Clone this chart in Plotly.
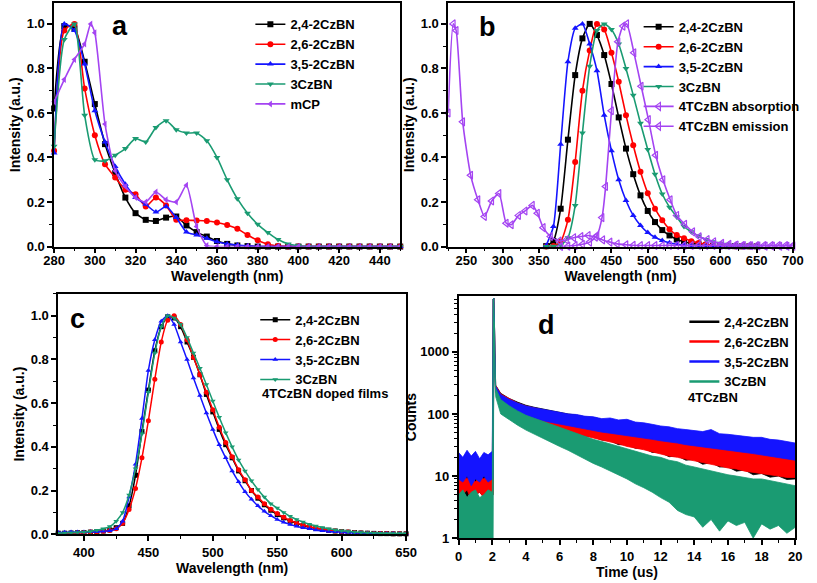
import plotly.graph_objects as go

FONT = "Arial, Liberation Sans, sans-serif"
BLACK, RED, BLUE, GREEN, PURPLE = "#000000", "#ff0000", "#1414ff", "#1a9b72", "#a444f2"

# ---------------- panel a : absorption ----------------
wl_a = list(range(280, 455, 5))
a_24 = [0.62, 0.99, 0.98, 0.83, 0.64, 0.46, 0.33, 0.22, 0.15, 0.12, 0.115, 0.13, 0.135, 0.095, 0.065,
        0.045, 0.025, 0.012, 0.005, 0.002] + [0.0] * 15
a_26 = [0.43, 0.97, 1.0, 0.71, 0.50, 0.37, 0.31, 0.255, 0.235, 0.18, 0.22, 0.185, 0.12, 0.118, 0.117,
        0.115, 0.108, 0.097, 0.08, 0.052, 0.028, 0.01, 0.003] + [0.0] * 12
a_35 = [0.42, 1.0, 0.97, 0.82, 0.61, 0.47, 0.36, 0.28, 0.22, 0.19, 0.155, 0.18, 0.13, 0.065, 0.052,
        0.037, 0.022, 0.012, 0.007, 0.003] + [0.0] * 15
a_3cz = [0.45, 0.93, 1.0, 0.59, 0.39, 0.385, 0.41, 0.44, 0.485, 0.47, 0.535, 0.565, 0.525, 0.51, 0.51,
         0.475, 0.40, 0.30, 0.215, 0.15, 0.10, 0.063, 0.032, 0.012, 0.004] + [0.0] * 10
wl_a_mcp = [280, 285, 290, 295, 298] + list(range(300, 455, 5))
a_mcp = [0.65, 0.75, 0.84, 0.91, 1.0, 0.96, 0.55, 0.34, 0.27, 0.22, 0.20, 0.245, 0.21, 0.20, 0.275,
         0.09, 0.005] + [0.0] * 19

# ---------------- panel b : emission / absorption ----------------
wl_b = list(range(360, 660, 10))
b_24 = [0.002, 0.025, 0.17, 0.48, 0.77, 0.935, 1.0, 0.95, 0.86, 0.73, 0.58, 0.44, 0.325, 0.23, 0.16,
        0.11, 0.074, 0.05, 0.032, 0.022, 0.015, 0.01, 0.006, 0.004, 0.003, 0.002, 0.002, 0.001, 0.001, 0.001]
b_26 = [0.0, 0.003, 0.022, 0.12, 0.38, 0.70, 0.88, 1.0, 0.975, 0.87, 0.74, 0.59, 0.455, 0.336, 0.24,
        0.17, 0.118, 0.078, 0.052, 0.037, 0.024, 0.016, 0.01, 0.006, 0.004, 0.003, 0.002, 0.001, 0.001, 0.001]
b_35 = [0.005, 0.09, 0.46, 0.83, 0.98, 1.0, 0.91, 0.79, 0.59, 0.43, 0.30, 0.207, 0.14, 0.095, 0.063,
        0.042, 0.027, 0.017, 0.011, 0.007, 0.004, 0.003, 0.002, 0.002, 0.001, 0.001, 0.001, 0.001, 0.001, 0.001]
b_3cz = [0.0, 0.002, 0.006, 0.04, 0.185, 0.51, 0.81, 0.97, 1.0, 0.975, 0.91, 0.80, 0.68, 0.554, 0.436,
         0.325, 0.236, 0.177, 0.133, 0.09, 0.066, 0.047, 0.032, 0.022, 0.015, 0.01, 0.006, 0.004, 0.003, 0.002]
wl_b_abs = [225, 232, 236, 245, 256, 266, 275, 285, 295, 305, 312, 322, 331, 341, 348, 356, 366, 378,
            388, 398, 408, 418, 428, 438, 448, 458, 470, 480, 490, 500, 510, 520, 530, 540, 550, 560,
            570, 580, 590, 600, 610, 620, 630, 640, 650, 660, 670, 680, 690, 700]
b_abs = [0.60, 1.0, 0.97, 0.56, 0.32, 0.21, 0.135, 0.205, 0.238, 0.105, 0.098, 0.14, 0.16, 0.185, 0.15,
         0.085, 0.045, 0.025, 0.03, 0.04, 0.045, 0.05, 0.042, 0.03, 0.02, 0.012, 0.008, 0.006, 0.005,
         0.005, 0.005, 0.005, 0.005, 0.005, 0.005, 0.005, 0.005, 0.005, 0.005, 0.005, 0.005, 0.005,
         0.005, 0.005, 0.005, 0.005, 0.005, 0.005, 0.005, 0.005]
wl_b_em = [380, 390, 400, 410, 420, 430, 437, 442, 450, 459, 466, 471, 481, 491, 501, 511, 521, 531,
           540, 551, 562, 571, 582, 591, 602, 612, 622, 632, 642, 652, 662, 672, 682, 692, 700]
b_em = [0.0, 0.002, 0.005, 0.01, 0.02, 0.05, 0.13, 0.27, 0.61, 0.92, 0.99, 1.0, 0.87, 0.72, 0.57, 0.41,
        0.30, 0.21, 0.14, 0.10, 0.066, 0.044, 0.032, 0.022, 0.015, 0.01, 0.007, 0.005, 0.004, 0.003,
        0.002, 0.002, 0.001, 0.001, 0.001]

# ---------------- panel c : doped films PL ----------------
wl_c = list(range(380, 655, 5))
c_24 = [0.005, 0.005, 0.006, 0.007, 0.008, 0.01, 0.012, 0.015, 0.02, 0.03, 0.05,
        0.13, 0.27, 0.47, 0.66, 0.84, 0.95, 0.995, 0.99, 0.95, 0.88,
        0.81, 0.73, 0.64, 0.56, 0.48, 0.41, 0.35, 0.29, 0.245, 0.2,
        0.165, 0.135, 0.11, 0.09, 0.075, 0.06, 0.05, 0.04, 0.033, 0.027,
        0.022, 0.018, 0.015, 0.012, 0.01, 0.008, 0.006, 0.005, 0.004, 0.003,
        0.003, 0.002, 0.002, 0.002]
c_26 = [0.003, 0.004, 0.005, 0.006, 0.008, 0.01, 0.012, 0.014, 0.017, 0.025, 0.05,
        0.113, 0.21, 0.35, 0.52, 0.71, 0.88, 0.98, 1.0, 0.96, 0.89,
        0.81, 0.73, 0.65, 0.57, 0.49, 0.42, 0.355, 0.295, 0.25, 0.2,
        0.17, 0.14, 0.115, 0.095, 0.078, 0.063, 0.052, 0.042, 0.035, 0.028,
        0.023, 0.018, 0.015, 0.012, 0.01, 0.008, 0.006, 0.005, 0.004, 0.003,
        0.003, 0.002, 0.002, 0.002]
c_35 = [0.008, 0.009, 0.01, 0.01, 0.01, 0.011, 0.012, 0.014, 0.016, 0.025, 0.06,
        0.17, 0.32, 0.53, 0.75, 0.89, 0.975, 1.0, 0.96, 0.88, 0.80,
        0.715, 0.635, 0.555, 0.48, 0.41, 0.35, 0.29, 0.24, 0.195, 0.16,
        0.13, 0.105, 0.085, 0.068, 0.055, 0.045, 0.037, 0.03, 0.025, 0.02,
        0.016, 0.013, 0.011, 0.009, 0.008, 0.007, 0.006, 0.005, 0.004, 0.004,
        0.003, 0.003, 0.002, 0.002]
c_3cz = [0.005, 0.006, 0.007, 0.008, 0.01, 0.013, 0.018, 0.025, 0.035, 0.06, 0.10,
         0.18, 0.30, 0.46, 0.65, 0.83, 0.95, 1.0, 0.99, 0.96, 0.90,
         0.83, 0.76, 0.685, 0.61, 0.535, 0.465, 0.40, 0.34, 0.29, 0.245,
         0.205, 0.17, 0.14, 0.12, 0.10, 0.082, 0.068, 0.056, 0.046, 0.038,
         0.031, 0.025, 0.02, 0.016, 0.013, 0.01, 0.008, 0.007, 0.006, 0.005,
         0.004, 0.003, 0.003, 0.003]

# ---------------- panel d : transient decay (noise envelopes) ----------------
t_d = [0, 0.25, 0.5, 0.75, 1.0, 1.25, 1.5, 1.75, 2.0, 2.05, 2.1, 2.15, 2.2,
       2.5, 3.0, 3.5, 4.0, 4.5, 5.0, 5.5, 6.0, 6.5, 7.0, 7.5, 8.0, 8.5, 9.0, 9.5, 10.0,
       10.5, 11.0, 11.5, 12.0, 12.5, 13.0, 13.5, 14.0, 14.5, 15.0, 15.5, 16.0, 16.5, 17.0,
       17.5, 18.0, 18.5, 19.0, 19.5, 20.0]
d24_hi = [11, 9, 10, 8, 10, 9, 11, 9, 10, 7000, 7300, 1200, 290,
          215, 178, 155, 138, 128, 120, 113, 106, 100, 96, 90, 88, 82, 80, 76, 74,
          70, 66, 62, 58, 56, 52, 50, 48, 45, 43, 41, 39, 37, 35, 34, 32, 31, 29, 28, 27]
d24_lo = [5, 6, 4.5, 6, 5, 5.5, 4.5, 6, 5, 5, 4000, 500, 230,
          140, 110, 95, 84, 75, 69, 62, 58, 52, 50, 44, 43, 38, 37, 32, 32,
          28, 28, 24, 24, 20.5, 21, 18, 18.5, 15.5, 16.5, 14, 14, 12, 12.5, 10.5, 11, 9.6, 10, 8.8, 9]
d26_hi = [10, 11, 9, 10, 8, 10, 9, 10, 9, 7000, 7300, 1200, 290,
          210, 175, 150, 134, 124, 115, 108, 102, 96, 92, 86, 82, 78, 75, 71, 68,
          64, 61, 58, 55, 52, 49, 47, 45, 42, 40, 38, 36, 35, 33, 31, 30, 29, 27, 26, 25]
d26_lo = [4.5, 5, 6, 4.2, 5, 5.5, 4.5, 5.5, 5, 5, 4000, 500, 230,
          135, 105, 92, 82, 73, 66, 60, 56, 51, 47, 44, 41, 38, 35, 33, 30,
          28, 26.5, 24.5, 23, 21, 20, 18.5, 17.5, 16.5, 15.5, 14.5, 13.5, 13, 12, 11.5, 11, 10.5, 10, 9.5, 9.5]
d35_hi = [24, 20, 26, 21, 25, 19, 24, 22, 25, 7000, 7300, 1200, 280,
          205, 172, 150, 134, 126, 118, 112, 106, 100, 98, 92, 90, 84, 86, 80, 82,
          74, 72, 68, 64, 62, 58, 56, 54, 52, 56, 48, 47, 45, 44, 42, 42, 39, 38, 36, 34]
d35_lo = [9, 8, 10, 7, 9, 8, 10, 8, 9, 9, 4000, 500, 230,
          150, 118, 104, 93, 85, 78, 73, 68, 64, 60, 57, 54, 51, 49, 47, 45,
          43, 41, 39, 37, 35, 34, 32, 30, 29, 28, 27, 26, 25, 24, 23, 22, 21, 20, 19, 18]
d3cz_hi = [5, 6, 4.5, 5.5, 6, 4.5, 5, 6, 5.5, 7000, 7300, 1000, 260,
           170, 135, 112, 95, 85, 76, 68, 60, 54, 48, 44, 39, 36, 33, 30, 27,
           25, 23, 21, 20, 18, 17, 15, 14, 13, 12, 11, 10.5, 10, 9.5, 9, 9, 8.5, 8, 7.5, 7]
d3cz_lo = [1, 1, 1, 1, 1, 1, 1, 1, 1, 1, 3000, 400, 190,
           100, 80, 66, 55, 47, 40, 35, 30, 26, 22, 19, 16, 14, 12, 10.5, 9,
           7.5, 6.5, 5.5, 4.5, 3.8, 2.8, 2.4, 2.2, 1.5, 2.0, 1.3, 1.9, 1.6, 1.8, 1.0, 1.7, 1.4, 1.6, 1.2, 1.5]

names4 = ["2,4-2CzBN", "2,6-2CzBN", "3,5-2CzBN", "3CzBN"]
colors4 = [BLACK, RED, BLUE, GREEN]
symbols4 = ["square", "circle", "triangle-up", "triangle-down"]

fig = go.Figure()


def curve(x, y, name, color, symbol, xa, ya, leg, size=6, width=1.6, open_marker=False):
    marker = dict(symbol=symbol, size=size, color=color)
    if open_marker:
        marker["line"] = dict(color=color, width=1.2)
    fig.add_trace(go.Scatter(
        x=x, y=y, name=name, mode="lines+markers",
        line=dict(color=color, width=width, shape="spline", smoothing=0.6),
        marker=marker, xaxis=xa, yaxis=ya, legend=leg, cliponaxis=False))


# panel a
for y, n, c, s in zip([a_24, a_26, a_35, a_3cz], names4, colors4, symbols4):
    curve(wl_a, y, n, c, s, "x", "y", "legend")
curve(wl_a_mcp, a_mcp, "mCP", PURPLE, "triangle-left", "x", "y", "legend")

# panel b
for y, n, c, s in zip([b_24, b_26, b_35, b_3cz], names4, colors4, symbols4):
    curve(wl_b, y, n, c, s, "x2", "y2", "legend2", size=6)
curve(wl_b_abs, b_abs, "4TCzBN absorption", PURPLE, "triangle-left-open", "x2", "y2", "legend2", size=7, open_marker=True)
curve(wl_b_em, b_em, "4TCzBN emission", PURPLE, "triangle-left-open", "x2", "y2", "legend2", size=7, open_marker=True)

# panel c
for y, n, c, s in zip([c_24, c_26, c_35, c_3cz], names4, colors4, symbols4):
    curve(wl_c, y, n, c, s, "x3", "y3", "legend3", size=5, width=1.5)

# panel d : filled noise bands
for hi, lo, n, c in zip([d24_hi, d26_hi, d35_hi, d3cz_hi], [d24_lo, d26_lo, d35_lo, d3cz_lo], names4, colors4):
    fig.add_trace(go.Scatter(
        x=t_d + t_d[::-1], y=hi + lo[::-1], mode="lines", fill="toself", fillcolor=c,
        line=dict(color=c, width=0.8), showlegend=False, hoverinfo="skip",
        xaxis="x4", yaxis="y4"))
for n, c in zip(names4, colors4):
    fig.add_trace(go.Scatter(x=[None], y=[None], mode="lines", name=n,
                             line=dict(color=c, width=2.5), xaxis="x4", yaxis="y4", legend="legend4"))

tickfont = dict(family=FONT, size=13, color="black", weight="bold")
titlefont = dict(family=FONT, size=14, color="black", weight="bold")
minor_common = dict(ticks="outside", ticklen=3, tickwidth=1.2, tickcolor="black", showgrid=False)


def axis(domain, rng, dtick=None, minor_dtick=None, title="", anchor=None, fmt=None, standoff=3, **kw):
    d = dict(domain=domain, range=rng, showline=True, linecolor="black", linewidth=1.5, mirror=True,
             ticks="outside", ticklen=5, tickwidth=1.5, tickcolor="black", showgrid=False,
             zeroline=False, tickfont=tickfont, anchor=anchor,
             title=dict(text=title, font=titlefont, standoff=standoff))
    if dtick is not None:
        d["dtick"] = dtick
    if minor_dtick is not None:
        d["minor"] = dict(dtick=minor_dtick, **minor_common)
    if fmt:
        d["tickformat"] = fmt
    d.update(kw)
    return d


W, H = 817, 583
def fx(px): return px / W
def fy(py): return 1 - py / H


xa_dom = [fx(44.3), fx(400)]; ya_dom = [fy(250), fy(3)]
xb_dom = [fx(449.3), fx(803.5)]
xc_dom = [fx(48.5), fx(406)]; yc_dom = [fy(541.7), fy(298)]
xd_dom = [fx(460), fx(806)]; yd_dom = [fy(545.7), fy(300)]

minor_log = [m * 10 ** e for e in range(0, 4) for m in range(2, 10)]

fig.update_layout(
    width=W, height=H, margin=dict(l=0, r=0, t=0, b=0),
    paper_bgcolor="white", plot_bgcolor="white",
    font=dict(family=FONT, color="black"),
    xaxis=axis(xa_dom, [280, 450], 20, 10, "Wavelength (nm)", "y", tick0=280, ticklabelstandoff=-4),
    yaxis=axis(ya_dom, [0, 1.094], 0.2, 0.1, "Intensity (a.u.)", "x", ".1f"),
    xaxis2=axis(xb_dom, [225, 700], 50, 25, "Wavelength (nm)", "y2", tick0=250, ticklabelstandoff=-4),
    yaxis2=axis(ya_dom, [0, 1.094], 0.2, 0.1, "Intensity (a.u.)", "x2", ".1f"),
    xaxis3=axis(xc_dom, [380, 650], 50, 25, "Wavelength (nm)", "y3", standoff=0, tick0=400),
    yaxis3=axis(yc_dom, [0, 1.1], 0.2, 0.1, "Intensity (a.u.)", "x3", ".1f"),
    xaxis4=axis(xd_dom, [0, 20], 2, 1, "Time (us)", "y4", tick0=0),
    yaxis4=axis(yd_dom, [0, 3.9], None, None, "Counts", "x4", standoff=0, type="log",
                tickvals=[1, 10, 100, 1000], ticktext=["1", "10", "100", "1000"],
                minor=dict(tickvals=minor_log, **minor_common)),
    showlegend=True,
)

leg_common = dict(bgcolor="rgba(0,0,0,0)", borderwidth=0, xanchor="left", yanchor="top",
                  font=dict(family=FONT, size=13, color="black", weight="bold"),
                  itemwidth=30, tracegroupgap=0)
fig.update_layout(
    legend=dict(x=fx(246), y=fy(9.5), **leg_common),
    legend2=dict(x=fx(645), y=fy(12), **leg_common),
    legend3=dict(x=fx(251), y=fy(309), **leg_common),
    legend4=dict(x=fx(692), y=fy(311), **leg_common),
)

letter_font = dict(family=FONT, size=27, color="black", weight="bold")
txt_font = dict(family=FONT, size=13, color="black", weight="bold")
fig.add_annotation(text="a", x=fx(111.7), y=fy(26.7), xref="paper", yref="paper", showarrow=False,
                   font=letter_font, xanchor="center", yanchor="middle")
fig.add_annotation(text="b", x=fx(490), y=fy(27), xref="paper", yref="paper", showarrow=False,
                   font=letter_font, xanchor="center", yanchor="middle")
fig.add_annotation(text="c", x=fx(68), y=fy(323), xref="paper", yref="paper", showarrow=False,
                   font=letter_font, xanchor="center", yanchor="middle")
fig.add_annotation(text="d", x=fx(550), y=fy(330), xref="paper", yref="paper", showarrow=False,
                   font=letter_font, xanchor="center", yanchor="middle")
fig.add_annotation(text="4TCzBN doped films", x=fx(256), y=fy(399), xref="paper", yref="paper",
                   showarrow=False, font=txt_font, xanchor="left", yanchor="middle")
fig.add_annotation(text="4TCzBN", x=fx(694), y=fy(403), xref="paper", yref="paper",
                   showarrow=False, font=txt_font, xanchor="left", yanchor="middle")

fig.write_html("out.html", config={"displayModeBar": False},
               post_script="document.body.style.margin='0px';document.body.style.overflow='hidden';")
